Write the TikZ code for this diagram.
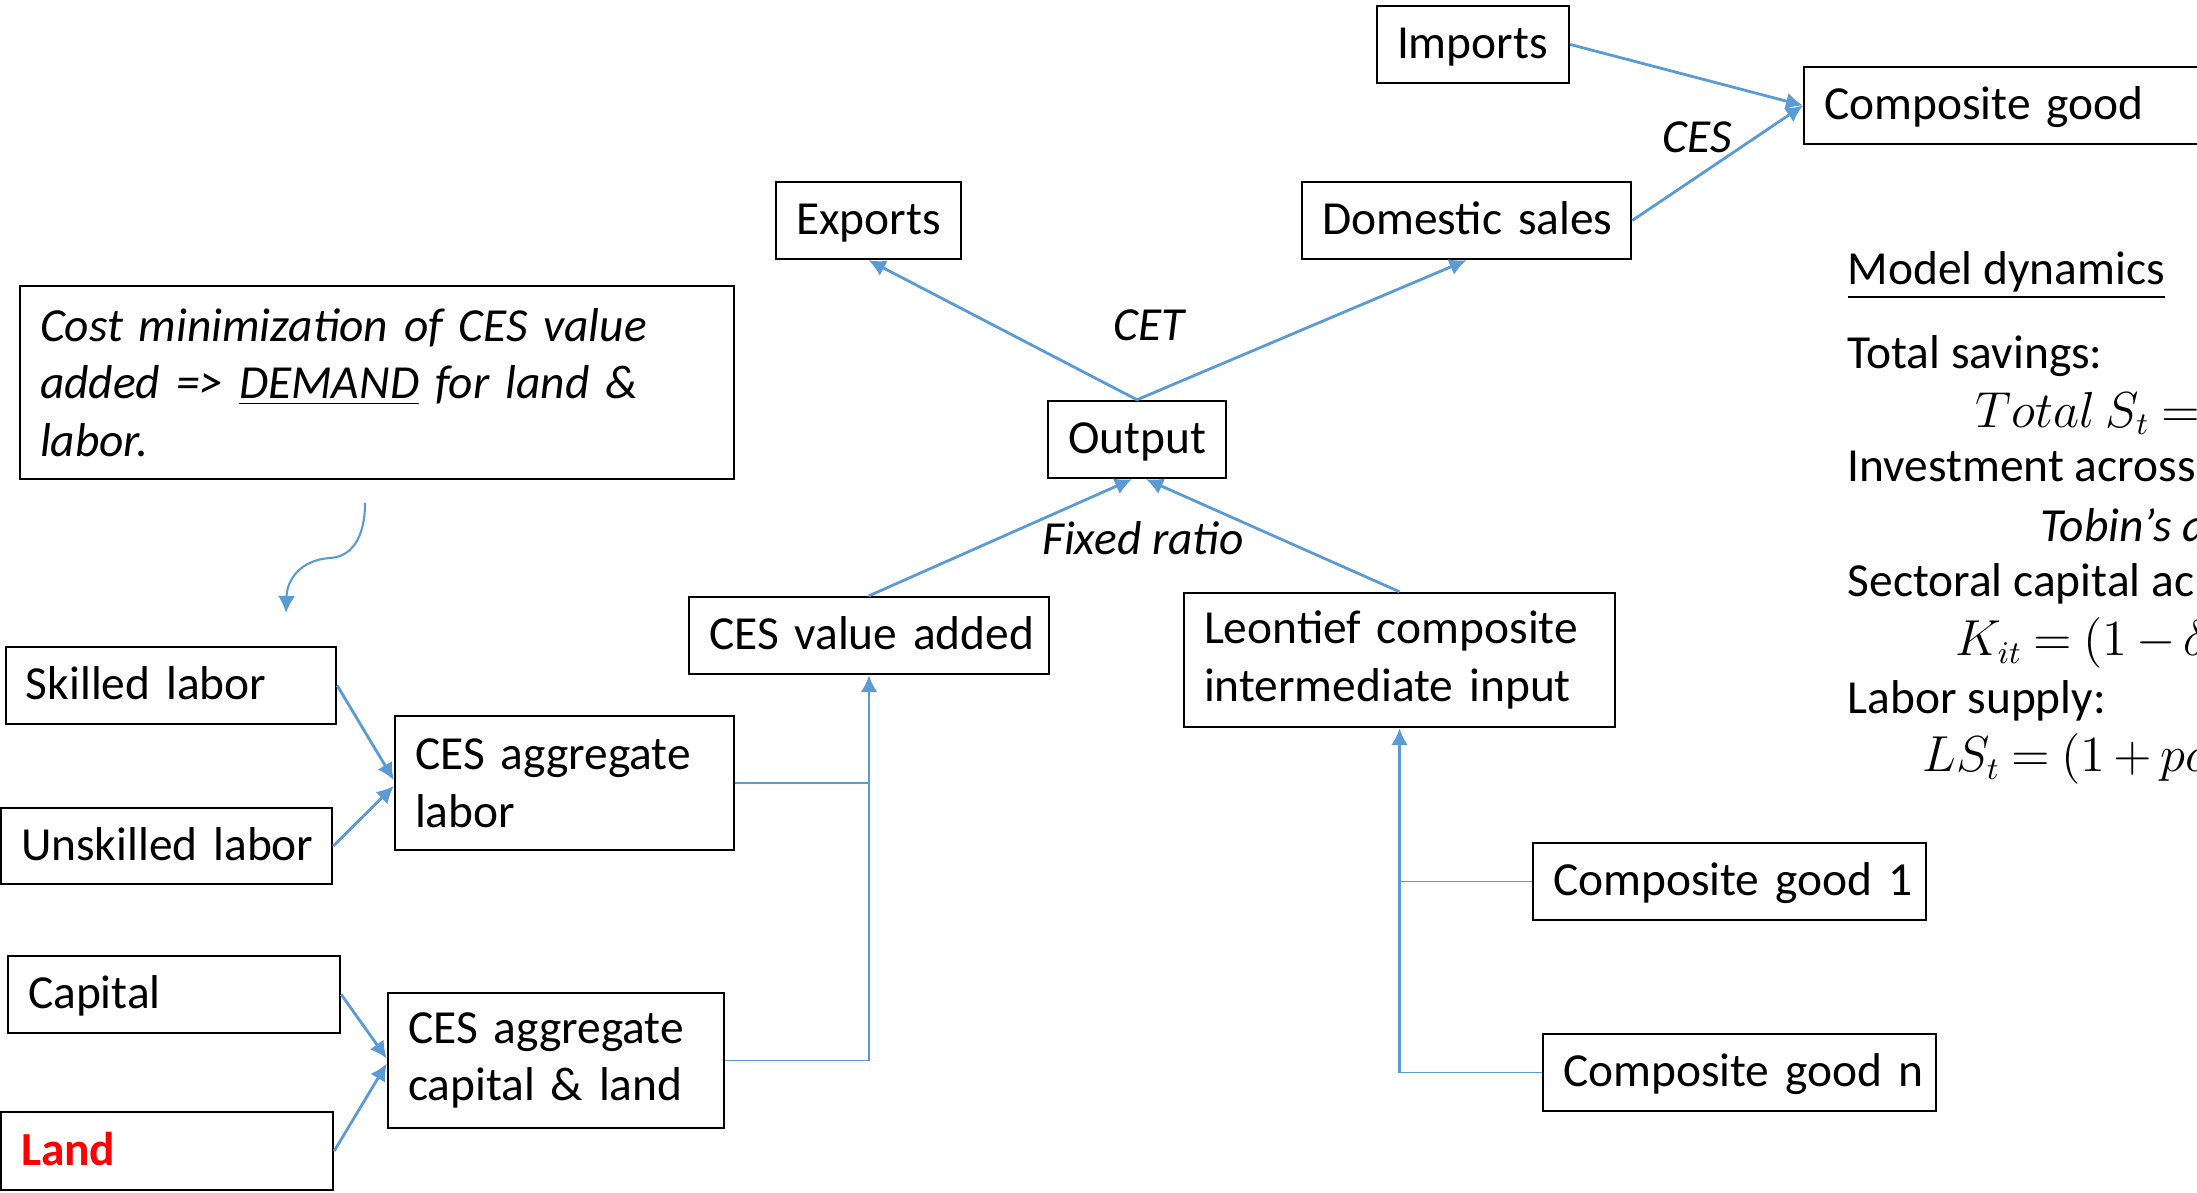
\documentclass[tikz,border=0pt]{standalone}
\usepackage{fontspec}
\setmainfont{Carlito}
\usetikzlibrary{arrows.meta}
\definecolor{linkblue}{RGB}{91,155,213}
\newcommand{\boxstrut}{\rule[-3.4pt]{0pt}{14.9pt}}

\begin{document}
\begin{tikzpicture}[
  box/.style={draw, line width=0.7pt, inner xsep=0.2cm, inner ysep=0pt, align=left, font=\fontsize{13.5pt}{16.4pt}\selectfont},
  onebox/.style={box, minimum height=0.77cm, execute at begin node=\boxstrut},
  lbl/.style={inner sep=0pt, font=\fontsize{13.5pt}{16.4pt}\selectfont\itshape},
  txt/.style={inner sep=0pt, anchor=base west, font=\fontsize{13.5pt}{16.4pt}\selectfont},
  eqn/.style={txt, execute at begin node={\medmuskip=3mu\thickmuskip=4mu}},
  arr/.style={draw=linkblue, line width=0.8pt, -{Latex[length=0.17cm,width=0.17cm]}},
  link/.style={draw=linkblue, line width=0.45pt}
]
\useasboundingbox (0,0) rectangle (21.97,11.92);
\clip (0,0) rectangle (21.97,11.92);

\node[onebox, text width=1.52cm] (imports) at (14.73,11.475) {\mbox{Imports}};
\node[onebox, text width=4.2cm, anchor=west] (compgood) at (18.03,10.865) {\mbox{Composite good}};
\node[onebox, text width=1.45cm] (exports) at (8.685,9.715) {\mbox{Exports}};
\node[onebox, text width=2.89cm] (domestic) at (14.665,9.715) {\mbox{Domestic sales}};
\node[box, text width=6.74cm, minimum height=1.93cm] (costmin) at (3.77,8.095) {\itshape Cost minimization of CES value\\ \itshape added => \underline{DEMAND} for land \&\\ \itshape labor.};
\node[onebox, text width=1.38cm] (output) at (11.37,7.525) {\mbox{Output}};
\node[onebox, text width=3.2cm] (va) at (8.69,5.565) {\mbox{CES value added}};
\node[box, text width=3.91cm, minimum height=1.34cm] (leon) at (13.995,5.32) {Leontief composite\\ intermediate input};
\node[onebox, text width=2.9cm] (skilled) at (1.71,5.065) {\mbox{Skilled labor}};
\node[onebox, text width=2.91cm, minimum height=0.76cm] (unskilled) at (1.665,3.46) {\mbox{Unskilled labor}};
\node[box, text width=2.99cm, minimum height=1.34cm] (agglab) at (5.645,4.09) {CES aggregate\\ labor};
\node[onebox, text width=2.92cm] (capital) at (1.74,1.975) {\mbox{Capital}};
\node[onebox, text width=2.92cm, minimum height=0.78cm] (land) at (1.67,0.41) {\mbox{\bfseries\color{red}Land}};
\node[box, text width=2.96cm, minimum height=1.35cm] (aggcap) at (5.56,1.315) {CES aggregate\\ capital \& land};
\node[onebox, text width=3.53cm] (cg1) at (17.295,3.105) {\mbox{Composite good 1}};
\node[onebox, text width=3.53cm] (cgn) at (17.395,1.195) {\mbox{Composite good n}};

\node[lbl] (ceslbl) at (16.97,10.55) {CES};
\node[lbl] (cetlbl) at (11.49,8.67) {CET};
\node[lbl] (fixlbl) at (11.43,6.54) {Fixed ratio};

\node[txt] (md) at (18.47,9.076) {\underline{Model dynamics}};
\node[txt] (ts) at (18.47,8.235) {Total savings:};
\node[eqn] (tseq) at (19.75,7.647) {$Total\ S_t =$};
\node[txt] (inv) at (18.47,7.10) {Investment across};
\node[txt] (tob) at (20.40,6.505) {\itshape Tobin’s q};
\node[txt] (sec) at (18.47,5.951) {Sectoral capital ac};
\node[eqn] (keq) at (19.55,5.363) {$K_{it} = (1 - \delta$};
\node[txt] (ls) at (18.47,4.788) {Labor supply:};
\node[eqn] (lseq) at (19.22,4.20) {$LS_t = (1 + po$};

\draw[arr] (imports.east) -- (compgood.west);
\draw[arr] (domestic.east) -- (compgood.west);
\draw[arr] (output.north) -- (exports.south);
\draw[arr] (output.north) -- (domestic.south);
\draw[arr] (va.north) -- ([xshift=-0.05cm]output.south);
\draw[arr] (leon.north) -- ([xshift=0.09cm]output.south);

\draw[arr] (skilled.east) -- ([yshift=0.03cm]agglab.west);
\draw[arr] (unskilled.east) -- ([yshift=-0.03cm]agglab.west);
\draw[arr] (capital.east) -- ([yshift=0.02cm]aggcap.west);
\draw[arr] (land.east) -- ([yshift=-0.03cm]aggcap.west);

\coordinate (vaj) at (va.south |- agglab.east);
\draw[link] (agglab.east) -- (vaj);
\draw[link] (aggcap.east) -| (vaj);
\draw[arr] (vaj) -- (va.south);

\coordinate (leonj) at (leon.south |- cgn.west);
\draw[link] (cg1.west) -- (leon.south |- cg1.west);
\draw[link] (cgn.west) -- (leonj);
\draw[arr] (leonj) -- (leon.south);

\coordinate (cstart) at (3.65,6.89);
\coordinate (cend) at (2.86,5.79);
\draw[arr, line width=0.6pt] (cstart) .. controls (3.65,6.52) and (3.50,6.35) .. (3.30,6.34) .. controls (3.00,6.32) and (2.87,6.12) .. (cend);

\end{tikzpicture}
\end{document}
